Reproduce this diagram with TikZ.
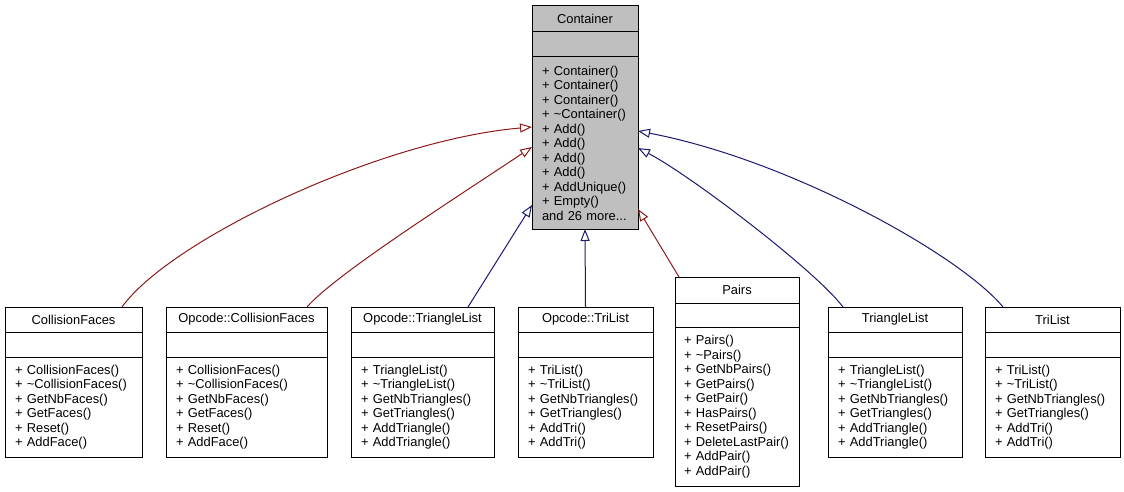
\documentclass[tikz,border=0pt]{standalone}
\usepackage{fontspec}
\setmainfont{Liberation Sans}
\usetikzlibrary{positioning,arrows.meta,calc}
\definecolor{inhred}{HTML}{8B1A1A}
\definecolor{inhblue}{HTML}{191970}
\definecolor{boxgray}{HTML}{BFBFBF}

\begin{document}
\begin{tikzpicture}[x=1pt, y=-1pt, line width=1pt,
    every node/.style={font=\fontsize{12.9}{14.5}\selectfont, inner sep=0pt, outer sep=0pt},
    cls/.style={draw, anchor=north west, minimum height=25pt},
    attr/.style={draw, minimum height=25pt},
    ops/.style={draw, align=left, inner xsep=10pt, minimum height=100pt},
    redge/.style={draw=inhred, -{Triangle[open, length=12pt, width=9pt]}},
    bedge/.style={draw=inhblue, -{Triangle[open, length=12pt, width=9pt]}}]
    \useasboundingbox (0,0) rectangle (1124,492);

    % base class
    \node[cls, fill=boxgray, minimum width=106pt, minimum height=26pt] (cont) at (532,6) {Container};
    \node[attr, fill=boxgray, minimum width=106pt, below=0pt of cont] (contA) {};
    \node[ops, fill=boxgray, text width=86pt, minimum height=172pt, below=0pt of contA] (contO)
        {+ Container()\\+ Container()\\+ Container()\\+ \textasciitilde Container()\\+ Add()\\+ Add()\\+ Add()\\+ Add()\\+ AddUnique()\\+ Empty()\\and 26 more...};

    % derived classes
    \node[cls, minimum width=137pt] (cf) at (5,307) {CollisionFaces};
    \node[attr, minimum width=137pt, below=0pt of cf] (cfA) {};
    \node[ops, text width=117pt, below=0pt of cfA] (cfO)
        {+ CollisionFaces()\\+ \textasciitilde CollisionFaces()\\+ GetNbFaces()\\+ GetFaces()\\+ Reset()\\+ AddFace()};

    \node[cls, minimum width=161pt] (ocf) at (166,307) {Opcode::CollisionFaces};
    \node[attr, minimum width=161pt, below=0pt of ocf] (ocfA) {};
    \node[ops, text width=141pt, below=0pt of ocfA] (ocfO)
        {+ CollisionFaces()\\+ \textasciitilde CollisionFaces()\\+ GetNbFaces()\\+ GetFaces()\\+ Reset()\\+ AddFace()};

    \node[cls, minimum width=143pt] (otl) at (351,307) {Opcode::TriangleList};
    \node[attr, minimum width=143pt, below=0pt of otl] (otlA) {};
    \node[ops, text width=123pt, below=0pt of otlA] (otlO)
        {+ TriangleList()\\+ \textasciitilde TriangleList()\\+ GetNbTriangles()\\+ GetTriangles()\\+ AddTriangle()\\+ AddTriangle()};

    \node[cls, minimum width=135pt] (otr) at (518,307) {Opcode::TriList};
    \node[attr, minimum width=135pt, below=0pt of otr] (otrA) {};
    \node[ops, text width=115pt, below=0pt of otrA] (otrO)
        {+ TriList()\\+ \textasciitilde TriList()\\+ GetNbTriangles()\\+ GetTriangles()\\+ AddTri()\\+ AddTri()};

    \node[cls, minimum width=124pt, minimum height=26pt] (pairs) at (675,277) {Pairs};
    \node[attr, minimum width=124pt, minimum height=24pt, below=0pt of pairs] (pairsA) {};
    \node[ops, inner xsep=9pt, text width=106pt, minimum height=159pt, below=0pt of pairsA] (pairsO)
        {+ Pairs()\\+ \textasciitilde Pairs()\\+ GetNbPairs()\\+ GetPairs()\\+ GetPair()\\+ HasPairs()\\+ ResetPairs()\\+ DeleteLastPair()\\+ AddPair()\\+ AddPair()};

    \node[cls, minimum width=134pt] (tl) at (828,307) {TriangleList};
    \node[attr, minimum width=134pt, below=0pt of tl] (tlA) {};
    \node[ops, text width=114pt, below=0pt of tlA] (tlO)
        {+ TriangleList()\\+ \textasciitilde TriangleList()\\+ GetNbTriangles()\\+ GetTriangles()\\+ AddTriangle()\\+ AddTriangle()};

    \node[cls, minimum width=135pt] (tr) at (985,307) {TriList};
    \node[attr, minimum width=135pt, below=0pt of tr] (trA) {};
    \node[ops, text width=115pt, below=0pt of trA] (trO)
        {+ TriList()\\+ \textasciitilde TriList()\\+ GetNbTriangles()\\+ GetTriangles()\\+ AddTri()\\+ AddTri()};

    % inheritance
    \draw[redge] ($(cf.north west)+(117,0)$) .. controls (170,240) and (380,140) .. ($(contO.north west)+(0,70)$);
    \draw[redge] ($(ocf.north west)+(141,0)$) .. controls (335,275) and (445,205) .. ($(contO.north west)+(0,90)$);
    \draw[bedge] ($(otl.north west)+(117,0)$) -- ($(contO.north west)+(0,148)$);
    \draw[bedge] (otr.north) -- (contO.south);
    \draw[redge] ($(pairs.north west)+(4,0)$) -- ($(contO.north east)+(0,152)$);
    \draw[bedge] ($(tl.north west)+(15,0)$) .. controls (815,270) and (690,175) .. ($(contO.north east)+(0,91)$);
    \draw[bedge] ($(tr.north west)+(18,0)$) .. controls (960,255) and (790,160) .. ($(contO.north east)+(0,74)$);
\end{tikzpicture}
\end{document}
